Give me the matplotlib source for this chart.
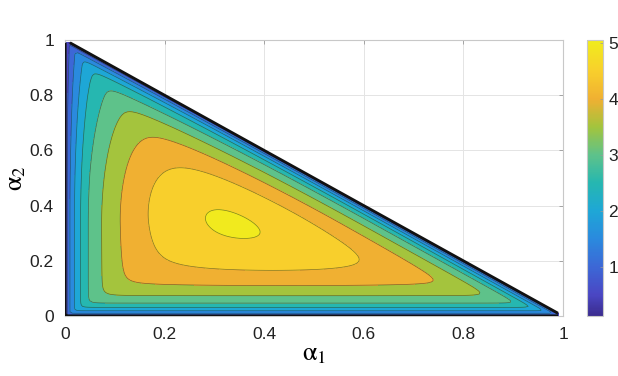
import numpy as np
import matplotlib
matplotlib.use("Agg")
import matplotlib.pyplot as plt
from matplotlib.colors import LinearSegmentedColormap, Normalize
from matplotlib.cm import ScalarMappable

plt.rcParams['font.family'] = ['Liberation Sans', 'DejaVu Sans']
plt.rcParams['mathtext.fontset'] = 'stix'

# contour levels / colour scale
levels = [0.001, 0.5, 1.0, 1.5, 2.0, 2.5, 3.0, 3.5, 4.0, 4.5, 5.0, 5.3]
clim = (0.12, 5.05)
cbar_ticks = [1, 2, 3, 4, 5]
x_ticks = [0, 0.2, 0.4, 0.6, 0.8, 1]
x_labels = ['0', '0.2', '0.4', '0.6', '0.8', '1']
y_ticks = [0, 0.2, 0.4, 0.6, 0.8, 1]
y_labels = ['0', '0.2', '0.4', '0.6', '0.8', '1']

# colours picked off the colorbar
cmap_values = [0.12, 0.5, 1.0, 1.5, 2.0, 2.5, 3.0, 3.5, 4.0, 4.5, 5.0, 5.05]
cmap_colors = ['#3b2c8f', '#4a47c4', '#3c68d6', '#2a8ade', '#1ea7d6', '#26b7b0',
               '#5ec28a', '#a3c43d', '#f0b032', '#f8cf2c', '#f1ea1e', '#f1ea1e']

# surface on the simplex a1 + a2 + a3 = 1, shape fitted to the contour crossings:
# rounded (k_low) soft minimum near the top, sharper (k_high) towards the edges,
# with an extra fall-off for large a2 (the plot is not symmetric)
k_low = 2.0
k_high = 6.0
blend_width = 0.7
decay = 0.38
gamma = 0.89
edge_slope = 0.137
edge_start = 1.4
a2_center = 1 / 3
a2_falloff = 0.8
peak = 5.06

step = 0.005
a = np.arange(0, 0.99 + step / 2, step)
A1, A2 = np.meshgrid(a, a)
A3 = np.clip(1 - A1 - A2, 0, None)
T = [np.clip(t, 1e-12, None) for t in (A1, A2, A3)]


def soft_min(k):
    return (T[0] ** -k + T[1] ** -k + T[2] ** -k) ** (-1 / k)


d_low = np.log(1 / (3 * soft_min(k_low)))
d_high = np.log(1 / (3 * soft_min(k_high)))
d_c = 0.5 * np.log(3)
lam = np.exp(-((d_low - d_c) / blend_width) ** 2)
D = np.clip(lam * d_low + (1 - lam) * d_high - d_c, 0, None)
expo = decay * D ** gamma + edge_slope * np.clip(D - edge_start, 0, None)
expo += a2_falloff * np.clip(A2 - a2_center, 0, None) ** 2
F = peak * np.exp(-expo)

norm = Normalize(*clim)
pos = [(v - clim[0]) / (clim[1] - clim[0]) for v in cmap_values]
cmap = LinearSegmentedColormap.from_list('parula_like', list(zip(pos, cmap_colors)))
band_colors = [cmap(norm(l)) for l in levels[:-1]]

fig = plt.figure(figsize=(6.18, 3.76), dpi=100)
ax = fig.add_axes([65 / 618, 60 / 376, 498 / 618, 276 / 376])
cax = fig.add_axes([587 / 618, 60 / 376, 16 / 618, 276 / 376])

ax.set_axisbelow(True)
ax.grid(True, color='#e4e4e4', lw=0.7)
ax.contourf(A1, A2, F, levels=levels, colors=band_colors, zorder=2)
ax.contour(A1, A2, F, levels=levels[1:-1], colors='#222222', linewidths=0.5,
           alpha=0.55, zorder=3)
ax.contour(A1, A2, F, levels=[levels[0]], colors='#111111', linewidths=2.0, zorder=4)

ax.set_xlim(0, 1)
ax.set_ylim(0, 1)
ax.set_xticks(x_ticks)
ax.set_xticklabels(x_labels)
ax.set_yticks(y_ticks)
ax.set_yticklabels(y_labels)
ax.tick_params(direction='in', length=3, width=0.6, color='#999999',
               top=True, right=True, labelsize=12.5, labelcolor='#222222', pad=8)
for sp in ax.spines.values():
    sp.set_color('#c8c8c8')
    sp.set_linewidth(0.8)
ax.set_xlabel(r'$\mathrm{\alpha}_1$', fontsize=19, labelpad=0)
ax.set_ylabel(r'$\mathrm{\alpha}_2$', fontsize=19, labelpad=1)

cb = fig.colorbar(ScalarMappable(norm=norm, cmap=cmap), cax=cax, ticks=cbar_ticks)
cb.ax.tick_params(direction='in', length=2, width=0.5, color='#999999',
                  labelsize=12.5, labelcolor='#222222', pad=4)
cb.outline.set_edgecolor('#c8c8c8')
cb.outline.set_linewidth(0.8)

fig.savefig('out.png', dpi=100)
